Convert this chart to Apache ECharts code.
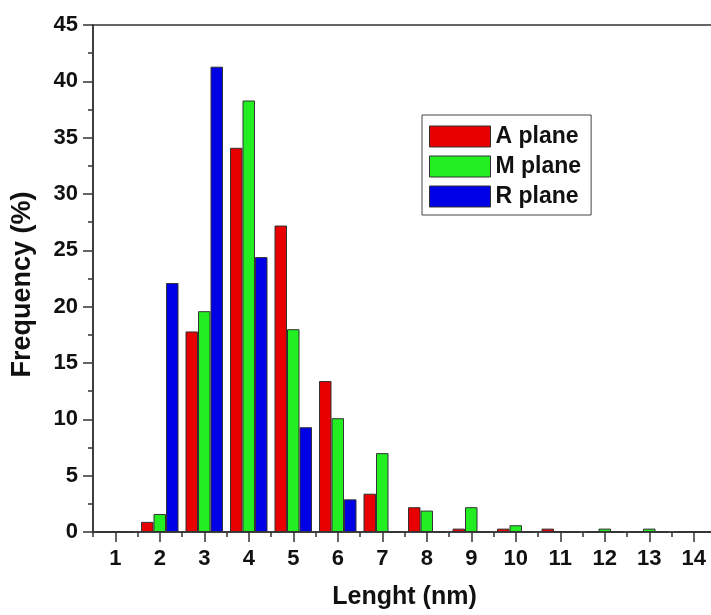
<!DOCTYPE html>
<html>
<head>
<meta charset="utf-8">
<script src="https://cdn.jsdelivr.net/npm/echarts@6/dist/echarts.min.js"></script>
<style>html,body{margin:0;padding:0;background:#fff}#c{width:711px;height:615px}</style>
</head>
<body>
<div id="c"></div>
<script>
var categories = ['1','2','3','4','5','6','7','8','9','10','11','12','13','14'];
var aPlane = [0, 0.9, 17.8, 34.1, 27.2, 13.4, 3.4, 2.2, 0.3, 0.3, 0.3, 0, 0, 0];
var mPlane = [0, 1.6, 19.6, 38.3, 18.0, 10.1, 7.0, 1.9, 2.2, 0.6, 0, 0.3, 0.3, 0];
var rPlane = [0, 22.1, 41.3, 24.4, 9.3, 2.9, 0, 0, 0, 0, 0, 0, 0, 0];
var seriesNames = ['A plane', 'M plane', 'R plane'];
var yTicks = {min: 0, max: 45, interval: 5};

var FONT = '"Liberation Sans", Arial, sans-serif';
var colors = ['#e80000', '#22ee22', '#0000e6'];
var chart = echarts.init(document.getElementById('c'));
function bar(name, data, color) {
  return {
    name: name, type: 'bar', data: data, xAxisIndex: 0,
    barWidth: 12.5, barGap: '0%',
    itemStyle: {color: color, borderColor: '#333', borderWidth: 1}
  };
}
chart.setOption({
  animation: false,
  backgroundColor: '#fff',
  grid: {left: 93, top: 25, width: 623, bottom: 83, outerBoundsMode: 'none', containLabel: false,
         show: true, borderColor: '#333', borderWidth: 1.5},
  legend: {
    left: 422, top: 115, orient: 'vertical',
    icon: 'rect',
    itemWidth: 61, itemHeight: 21, itemGap: 7,
    padding: [10, 10, 7, 7],
    borderColor: '#444', borderWidth: 1,
    textStyle: {fontFamily: FONT, fontWeight: 'bold', fontSize: 23, color: '#111'},
    data: seriesNames.map(function (n, i) { return {name: n, itemStyle: {color: colors[i], borderColor: '#333', borderWidth: 1}}; })
  },
  xAxis: [{
    type: 'category', data: categories, position: 'bottom',
    name: 'Lenght (nm)', nameLocation: 'middle', nameGap: 53,
    nameTextStyle: {fontFamily: FONT, fontWeight: 'bold', fontSize: 25, color: '#111'},
    axisLine: {lineStyle: {color: '#333', width: 1.5}},
    axisTick: {show: true, alignWithLabel: false, inside: false, length: 5, lineStyle: {color: '#333', width: 1.5}},
    axisLabel: {fontFamily: FONT, fontWeight: 'bold', fontSize: 22, color: '#111', margin: 16},
    splitLine: {show: false}
  }, {
    type: 'category', data: categories, position: 'bottom',
    axisLine: {show: false},
    axisTick: {show: true, alignWithLabel: true, length: 10, lineStyle: {color: '#333', width: 1.5}},
    axisLabel: {show: false},
    splitLine: {show: false}
  }],
  yAxis: {
    type: 'value', min: yTicks.min, max: yTicks.max, interval: yTicks.interval,
    name: 'Frequency (%)', nameLocation: 'middle', nameGap: 57, nameRotate: 90,
    nameTextStyle: {fontFamily: FONT, fontWeight: 'bold', fontSize: 27, color: '#111', padding: [0, 12, 0, 0]},
    axisLine: {show: true, lineStyle: {color: '#333', width: 1.5}},
    axisTick: {show: true, length: 10, lineStyle: {color: '#333', width: 1.5}},
    minorTick: {show: true, splitNumber: 2, length: 5, lineStyle: {color: '#333', width: 1.5}},
    axisLabel: {fontFamily: FONT, fontWeight: 'bold', fontSize: 22, color: '#111', margin: 15},
    splitLine: {show: false}
  },
  series: [bar(seriesNames[0], aPlane, colors[0]), bar(seriesNames[1], mPlane, colors[1]), bar(seriesNames[2], rPlane, colors[2])]
});
</script>
</body>
</html>
